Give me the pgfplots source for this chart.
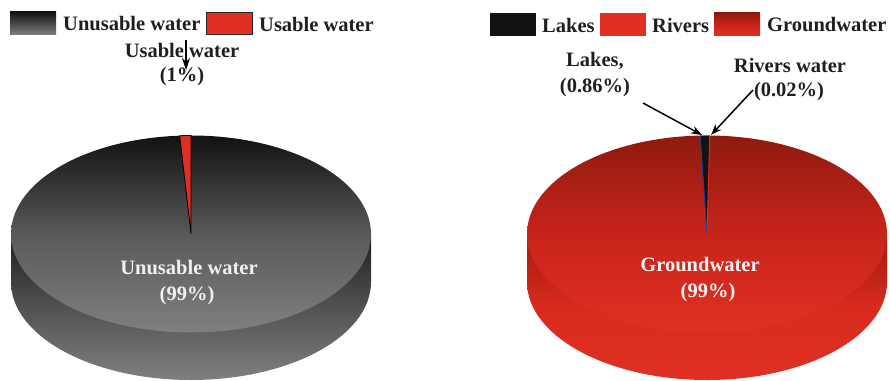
\documentclass[border=0pt]{standalone}
\usepackage{fontspec}
\setmainfont{Liberation Serif}
\usepackage{pgfplots}
\pgfplotsset{compat=1.18}
\usepackage{pgfplotstable}
\usetikzlibrary{arrows.meta}

\definecolor{ink}{HTML}{1F1F1F}
\definecolor{waterred}{HTML}{E03024}
\definecolor{deepred}{HTML}{8F1A0E}
\definecolor{wallred}{HTML}{A01C10}
\definecolor{midred}{HTML}{D92A1E}
\definecolor{facered}{HTML}{C8241A}
\definecolor{lakeblack}{HTML}{121212}
\definecolor{lakeblue}{HTML}{2B3F9E}

% Slice outlines: p = cumulative share in percent from 12 o'clock, r = 0 at the centre, 1 on the rim
\pgfplotstableread{
p     r
0     0
-1    1
0     1
}\usabletable
\pgfplotstableread{
p     r
0     0
-0.62 1
0.24  1
}\lakestable
\pgfplotstableread{
p     r
0     0
0.24  1
0.26  1
}\riverstable
\pgfplotstableread{
p     r
0     0
-0.60 1
}\lakeedgetable

\newcommand{\slicex}[1]{#1+180*\thisrow{r}*sin(3.6*\thisrow{p})}
\newcommand{\slicey}{146+98.5*\thisrow{r}*cos(3.6*\thisrow{p})}

% Cylinder body and top face centred on x = #1
\newcommand{\disc}[5]{%
  \path[top color=#2,bottom color=#4,middle color=#3]
    (axis cs:#1-180,146) -- (axis cs:#1-180,98)
    arc[start angle=180,end angle=360,x radius=180pt,y radius=98pt]
    -- (axis cs:#1+180,146) -- cycle;
  \path[#5] (axis cs:#1,146) ellipse[x radius=180pt,y radius=98.5pt];
}
\newcommand{\swatch}[3]{%
  \path[#3] (axis cs:#1,#2) rectangle (axis cs:#1+46,#2+23);
}
\tikzset{
  lab/.style={font=\fontsize{20.5}{24}\selectfont\bfseries,text=ink,inner sep=0pt},
  onpie/.style={lab,text=white!94!black},
  grayface/.style={top color=black!93,bottom color=black!50,middle color=black!65},
  redface/.style={top color=deepred,bottom color=waterred,middle color=facered},
}

\begin{document}
\begin{tikzpicture}
\useasboundingbox (0,0) rectangle (890pt,380pt);
\begin{axis}[
  at={(0,0)},anchor=south west,
  width=890pt,height=380pt,scale only axis,
  xmin=0,xmax=890,ymin=0,ymax=380,
  axis lines=none,
]
% left cylinder
\disc{191}{black!88}{black!68}{black!50}{grayface}
\addplot[fill=waterred,draw=black,line width=0.8pt]
  table[x expr=\slicex{191},y expr=\slicey] \usabletable -- cycle;

% right cylinder
\disc{707}{wallred}{midred}{waterred}{redface}
\addplot[fill=lakeblack,draw=none]
  table[x expr=\slicex{707},y expr=\slicey] \lakestable -- cycle;
\addplot[draw=waterred,line width=0.9pt]
  table[x expr=\slicex{707},y expr=\slicey] \riverstable;
\addplot[draw=lakeblue,line width=0.9pt]
  table[x expr=\slicex{707},y expr=\slicey] \lakeedgetable;

% legend keys
\swatch{10}{345}{top color=black!93,bottom color=black!50}
\path[fill=waterred,draw=black!85,line width=0.7pt] (axis cs:206.5,346) rectangle (axis cs:252,368);
\swatch{490}{344}{fill=lakeblack}
\swatch{600}{344}{fill=waterred}
\swatch{714}{344}{redface}
\node[lab,anchor=west] at (axis cs:63,356) {Unusable water};
\node[lab,anchor=west] at (axis cs:259,356) {Usable water};
\node[lab,anchor=west] at (axis cs:542,355) {Lakes};
\node[lab,anchor=west] at (axis cs:652,355) {Rivers};
\node[lab,anchor=west] at (axis cs:767,355) {Groundwater};

% slice labels
\node[lab] at (axis cs:182,330) {Usable water};
\node[lab] at (axis cs:182,303) {(1\%)};
\draw[-{Stealth[length=12pt,width=8pt]},black,line width=1.1pt] (axis cs:186,340) -- (axis cs:186,310);

\node[lab] at (axis cs:595,319) {Lakes,};
\node[lab] at (axis cs:595,292) {(0.86\%)};
\draw[-{Stealth[length=11pt,width=8pt]},black,line width=1.5pt] (axis cs:643,277) -- (axis cs:702,245);

\node[lab] at (axis cs:790,315) {Rivers water};
\node[lab] at (axis cs:789,288) {(0.02\%)};
\draw[-{Stealth[length=11pt,width=8pt]},black,line width=1.5pt] (axis cs:753,290) -- (axis cs:711,245);

\node[onpie] at (axis cs:189,112) {Unusable water};
\node[onpie] at (axis cs:187,84) {(99\%)};
\node[onpie] at (axis cs:700,115) {Groundwater};
\node[onpie] at (axis cs:708,87) {(99\%)};
\end{axis}
\end{tikzpicture}
\end{document}
